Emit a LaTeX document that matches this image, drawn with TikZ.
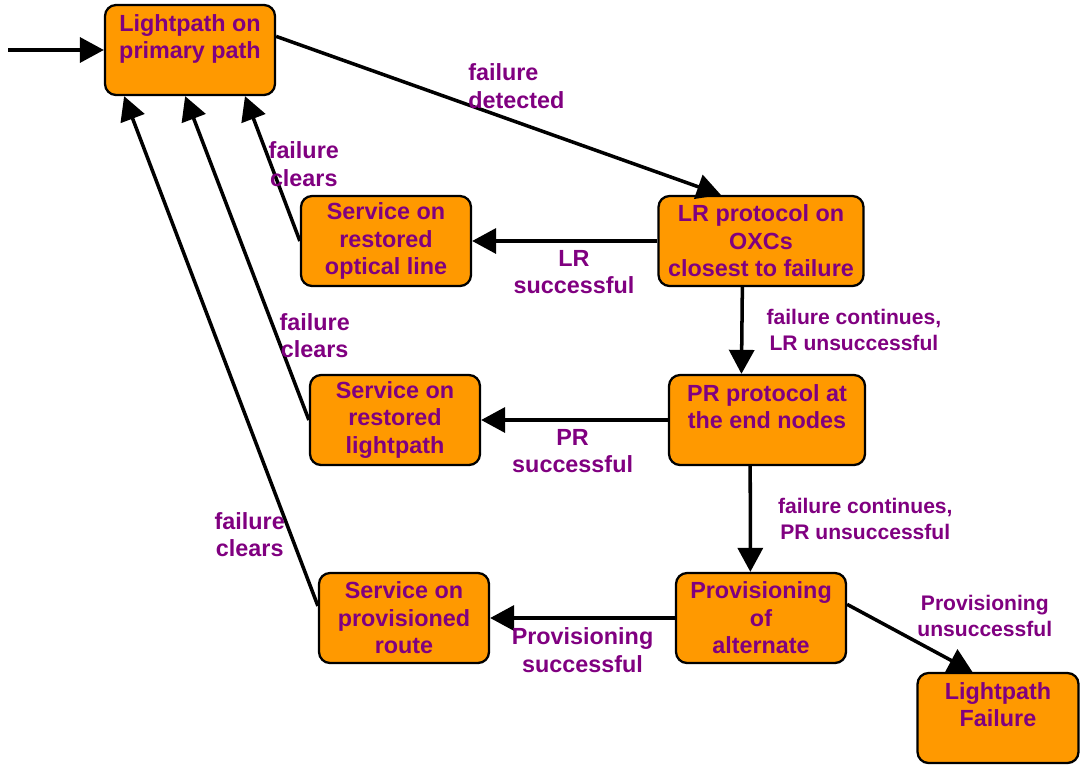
\documentclass[tikz,border=0pt]{standalone}
\usepackage{fontspec}
\setmainfont{Liberation Sans}
\usetikzlibrary{positioning, arrows, arrows.meta, calc}
\definecolor{boxorange}{HTML}{FF9900}
\definecolor{lblpurple}{HTML}{800080}

\begin{document}
\begin{tikzpicture}[x=0.02cm, y=-0.02cm, line width=2pt,
    >={Triangle[length=0.48cm,width=0.5cm]},
    box/.style={draw, line width=1.3pt, fill=boxorange, rounded corners=0.22cm,
        minimum width=3.4cm, minimum height=1.8cm, inner sep=0pt, align=center,
        text=lblpurple, font=\fontsize{13.3}{15.6}\selectfont\bfseries},
    lbl/.style={text=lblpurple, inner sep=0pt, align=center,
        font=\fontsize{13.3}{15.6}\selectfont\bfseries},
    lblsmall/.style={lbl, font=\fontsize{12}{14.6}\selectfont\bfseries}]
    \useasboundingbox (0,0) rectangle (1081,764);

    \node[box] (P) at (190,50) {Lightpath on\\primary path\\~};
    \node[box, minimum width=4.1cm] (LR) at (761,241) {LR protocol on\\OXCs\\closest to failure};
    \node[box] (SOL) at (386,241) {Service on\\restored\\optical line};
    \node[box, minimum width=3.92cm] (PR) at (767,420) {PR protocol at\\the end nodes\\~};
    \node[box] (SRL) at (395,420) {Service on\\restored\\lightpath};
    \node[box] (PV) at (761,618) {Provisioning\\of\\alternate};
    \node[box] (SPR) at (404,618) {Service on\\provisioned\\route};
    \node[box, minimum width=3.22cm] (LF) at (998,718) {Lightpath\\Failure\\~};
    \coordinate (in) at (8,50);

    \draw[->] (in) -- (P.west);

    \path[->]
    (P.9) edge node[lbl, align=left, pos=.54, shift={(0,-36)}] {failure\\detected} (LR.131)
    (LR.west) edge node[lbl, pos=.45, shift={(0,31)}] {LR\\successful} (SOL.east)
    (LR.248) edge node[lblsmall, pos=.49, shift={(112,0)}] {failure continues,\\LR unsuccessful} (PR.119)
    (PR.west) edge node[lbl, pos=.51, shift={(0,31)}] {PR\\successful} (SRL.east)
    (PR.250) edge node[lblsmall, pos=.5, shift={(115,0)}] {failure continues,\\PR unsuccessful} (PV.103)
    (PV.west) edge node[lbl, pos=.5, shift={(0,32)}] {Provisioning\\successful} (SPR.east)
    (PV.9) edge node[lblsmall, pos=.5, shift={(75,-22)}] {Provisioning\\unsuccessful} (LF.119)
    (SOL.west) edge node[lbl, pos=.53, shift={(33,0)}] {failure\\clears} (P.-40)
    (SRL.west) edge node[lbl, pos=.26, shift={(38,0)}] {failure\\clears} (P.264)
    (SPR.172) edge node[lbl, pos=.14, shift={(-41,0)}] {failure\\clears} (P.215)
    ;
\end{tikzpicture}
\end{document}
